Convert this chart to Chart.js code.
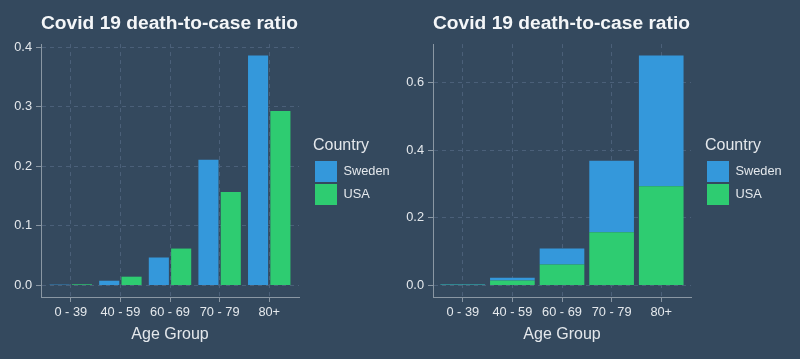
<!DOCTYPE html>
<html>
<head>
<meta charset="utf-8">
<script src="https://cdn.jsdelivr.net/npm/chart.js@4"></script>
<style>
  html, body { margin: 0; padding: 0; background: #34495e; }
  #wrap { position: relative; width: 800px; height: 359px; }
  canvas { position: absolute; top: 0; }
</style>
</head>
<body>
<div id="wrap">
  <canvas id="dodged" width="400" height="359" style="left:0"></canvas>
  <canvas id="stacked" width="400" height="359" style="left:400px"></canvas>
</div>
<script>
// data
const ageGroups = ['0 - 39', '40 - 59', '60 - 69', '70 - 79', '80+'];
const swedenRatio = [0.0015, 0.008, 0.047, 0.211, 0.386];
const usaRatio = [0.002, 0.0148, 0.062, 0.157, 0.293];
const dodgedTicks = [0, 0.1, 0.2, 0.3, 0.4];
const stackedTicks = [0, 0.2, 0.4, 0.6];

const chartTitle = 'Covid 19 death-to-case ratio';
const swedenColor = '#3498db';
const usaColor = '#2ecc71';
const gridColor = '#4b6079';
const axisColor = '#8a97a3';
const textColor = '#e4e8ec';

Chart.defaults.font.family = "'Liberation Sans', Arial, sans-serif";
Chart.defaults.color = textColor;

const toPoints = arr => arr.map((v, i) => ({ x: i + 1, y: v }));

// Chart.js has no margin between plot and legend, so widen the legend box
// and push it right after layout
const legendGap = {
    id: 'legendGap',
    afterInit(chart, args, opts) {
        const legend = chart.legend;
        const fit = legend.fit;
        legend.fit = function () { fit.call(this); this.width = opts.width; };
    },
    afterLayout(chart, args, opts) {
        chart.legend.left = chart.chartArea.right + opts.gap;
    }
};

function makeChart(id, cfg) {
    const top = cfg.stacked
        ? Math.max(...swedenRatio.map((v, i) => v + usaRatio[i]))
        : Math.max(...swedenRatio, ...usaRatio);
    const sweden = { label: 'Sweden', data: toPoints(swedenRatio), backgroundColor: swedenColor, borderWidth: 0 };
    const usa = { label: 'USA', data: toPoints(usaRatio), backgroundColor: usaColor, borderWidth: 0 };
    const datasets = cfg.stacked ? [usa, sweden] : [sweden, usa];

    return new Chart(document.getElementById(id).getContext('2d'), {
        type: 'bar',
        data: { datasets },
        plugins: [legendGap],
        options: {
            responsive: false,
            animation: false,
            events: [],
            layout: { padding: 0 },
            datasets: {
                bar: {
                    categoryPercentage: 0.9,
                    barPercentage: cfg.stacked ? 1 : 0.9
                }
            },
            scales: {
                x: {
                    type: 'linear',
                    offset: false,
                    stacked: cfg.stacked,
                    min: 0.4,
                    max: 5.6,
                    afterBuildTicks: s => { s.ticks = ageGroups.map((_, i) => ({ value: i + 1 })); },
                    afterFit: s => { s.height = 62; },
                    ticks: {
                        autoSkip: false,
                        maxRotation: 0,
                        padding: 3,
                        color: textColor,
                        font: { size: 12.8 },
                        callback: v => ageGroups[Math.round(v) - 1]
                    },
                    grid: { color: gridColor, lineWidth: 1, tickLength: 5, tickColor: axisColor, tickBorderDash: [], offset: false },
                    border: { display: true, color: axisColor, width: 1, dash: [4, 4] },
                    title: { display: true, text: 'Age Group', color: textColor, font: { size: 16 }, padding: { top: 0, bottom: 15 } }
                },
                y: {
                    stacked: cfg.stacked,
                    min: -0.05 * top,
                    max: 1.05 * top,
                    afterBuildTicks: s => { s.ticks = cfg.yTicks.map(v => ({ value: v })); },
                    afterFit: s => { s.width = cfg.yWidth; },
                    ticks: {
                        padding: 4,
                        color: textColor,
                        font: { size: 12.8 },
                        callback: v => v.toFixed(1)
                    },
                    grid: { color: gridColor, lineWidth: 1, tickLength: 5, tickColor: axisColor, tickBorderDash: [] },
                    border: { display: true, color: axisColor, width: 1, dash: [4, 4] }
                }
            },
            plugins: {
                tooltip: { enabled: false },
                title: {
                    display: true,
                    text: chartTitle,
                    align: 'start',
                    fullSize: false,
                    color: '#f4f6f8',
                    font: { size: 19.2, weight: 'bold' },
                    padding: { top: 12, bottom: 9 }
                },
                legend: {
                    display: true,
                    position: 'right',
                    align: 'center',
                    fullSize: false,
                    reverse: cfg.stacked,
                    title: {
                        display: true,
                        text: 'Country',
                        position: 'start',
                        color: textColor,
                        font: { size: 16 },
                        padding: { top: 4, bottom: 1.8 }
                    },
                    labels: {
                        boxWidth: 22,
                        boxHeight: 21,
                        padding: 2,
                        color: textColor,
                        font: { size: 12.8 }
                    }
                },
                legendGap: { width: cfg.legendWidth, gap: 14 }
            }
        }
    });
}

makeChart('dodged', { stacked: false, yTicks: dodgedTicks, yWidth: 41, legendWidth: 101 });
makeChart('stacked', { stacked: true, yTicks: stackedTicks, yWidth: 33, legendWidth: 109 });
</script>
</body>
</html>
